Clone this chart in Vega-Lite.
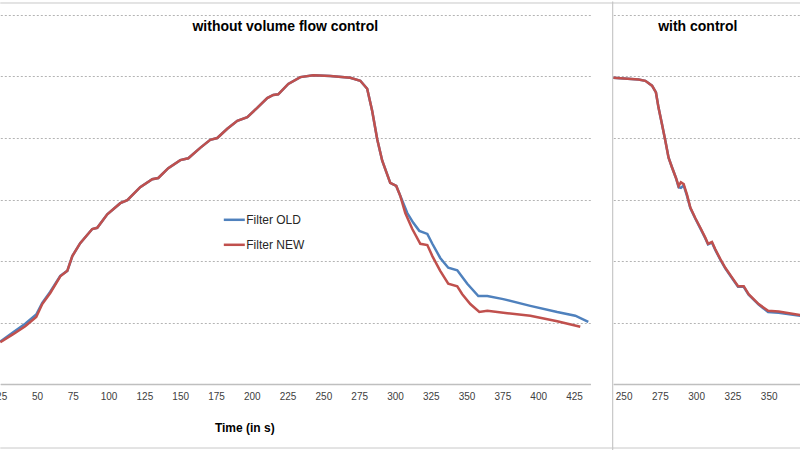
{
  "$schema": "https://vega.github.io/schema/vega-lite/v6.json",
  "background": "white",
  "padding": {"left": -4.7, "top": 0, "right": 0, "bottom": 0},
  "spacing": 23,
  "bounds": "flush",
  "config": {
    "view": {"stroke": null},
    "font": "Liberation Sans",
    "axisX": {"labelFont": "Liberation Sans", "labelFontSize": 10, "labelColor": "#404040", "labelPadding": 8,
      "labelFlush": false, "labelOverlap": false, "ticks": false, "grid": false,
      "domainColor": "#bfbfbf", "domainWidth": 1.5},
    "axisY": {"grid": true, "gridColor": "#b4b4b4", "gridDash": [2, 2], "gridWidth": 1,
      "labels": false, "ticks": false, "domain": false}
  },
  "resolve": {"scale": {"color": "independent"}, "legend": {"color": "independent"}},
  "datasets": {
    "one": [{}],
    "left": [
      {"series": "Filter OLD", "t": 24.4, "v": 6.9},
      {"series": "Filter OLD", "t": 33.4, "v": 8.4},
      {"series": "Filter OLD", "t": 41.8, "v": 9.8},
      {"series": "Filter OLD", "t": 49.5, "v": 11.3},
      {"series": "Filter OLD", "t": 53.7, "v": 13.2},
      {"series": "Filter OLD", "t": 59.3, "v": 15.0},
      {"series": "Filter OLD", "t": 66.3, "v": 17.6},
      {"series": "Filter OLD", "t": 71.2, "v": 18.4},
      {"series": "Filter OLD", "t": 74.7, "v": 20.8},
      {"series": "Filter OLD", "t": 80.2, "v": 22.9},
      {"series": "Filter OLD", "t": 88.6, "v": 25.2},
      {"series": "Filter OLD", "t": 92.1, "v": 25.4},
      {"series": "Filter OLD", "t": 99.1, "v": 27.6},
      {"series": "Filter OLD", "t": 108.2, "v": 29.4},
      {"series": "Filter OLD", "t": 113.1, "v": 29.9},
      {"series": "Filter OLD", "t": 122.1, "v": 32.0},
      {"series": "Filter OLD", "t": 130.5, "v": 33.3},
      {"series": "Filter OLD", "t": 134.7, "v": 33.5},
      {"series": "Filter OLD", "t": 141.7, "v": 35.1},
      {"series": "Filter OLD", "t": 150.1, "v": 36.4},
      {"series": "Filter OLD", "t": 155.7, "v": 36.7},
      {"series": "Filter OLD", "t": 164.0, "v": 38.4},
      {"series": "Filter OLD", "t": 171.0, "v": 39.7},
      {"series": "Filter OLD", "t": 175.9, "v": 40.0},
      {"series": "Filter OLD", "t": 182.9, "v": 41.5},
      {"series": "Filter OLD", "t": 189.9, "v": 42.8},
      {"series": "Filter OLD", "t": 196.9, "v": 43.4},
      {"series": "Filter OLD", "t": 203.8, "v": 44.9},
      {"series": "Filter OLD", "t": 210.8, "v": 46.5},
      {"series": "Filter OLD", "t": 215.0, "v": 47.0},
      {"series": "Filter OLD", "t": 218.5, "v": 47.1},
      {"series": "Filter OLD", "t": 225.5, "v": 48.8},
      {"series": "Filter OLD", "t": 233.9, "v": 49.9},
      {"series": "Filter OLD", "t": 243.0, "v": 50.2},
      {"series": "Filter OLD", "t": 254.8, "v": 50.1},
      {"series": "Filter OLD", "t": 268.8, "v": 49.8},
      {"series": "Filter OLD", "t": 275.8, "v": 49.3},
      {"series": "Filter OLD", "t": 280.6, "v": 48.0},
      {"series": "Filter OLD", "t": 284.1, "v": 44.4},
      {"series": "Filter OLD", "t": 287.6, "v": 39.8},
      {"series": "Filter OLD", "t": 291.1, "v": 36.3},
      {"series": "Filter OLD", "t": 296.7, "v": 32.7},
      {"series": "Filter OLD", "t": 300.9, "v": 32.2},
      {"series": "Filter OLD", "t": 303.7, "v": 30.6},
      {"series": "Filter OLD", "t": 308.6, "v": 27.8},
      {"series": "Filter OLD", "t": 312.8, "v": 26.2},
      {"series": "Filter OLD", "t": 317.0, "v": 24.9},
      {"series": "Filter OLD", "t": 322.6, "v": 24.4},
      {"series": "Filter OLD", "t": 326.1, "v": 22.8},
      {"series": "Filter OLD", "t": 331.6, "v": 20.5},
      {"series": "Filter OLD", "t": 337.2, "v": 18.9},
      {"series": "Filter OLD", "t": 343.5, "v": 18.5},
      {"series": "Filter OLD", "t": 350.5, "v": 16.3},
      {"series": "Filter OLD", "t": 358.2, "v": 14.3},
      {"series": "Filter OLD", "t": 364.5, "v": 14.3},
      {"series": "Filter OLD", "t": 375.6, "v": 13.8},
      {"series": "Filter OLD", "t": 394.5, "v": 12.7},
      {"series": "Filter OLD", "t": 413.3, "v": 11.7},
      {"series": "Filter OLD", "t": 425.9, "v": 11.1},
      {"series": "Filter OLD", "t": 435.0, "v": 10.1},
      {"series": "Filter NEW", "t": 24.4, "v": 6.8},
      {"series": "Filter NEW", "t": 33.4, "v": 8.1},
      {"series": "Filter NEW", "t": 41.8, "v": 9.4},
      {"series": "Filter NEW", "t": 49.5, "v": 10.9},
      {"series": "Filter NEW", "t": 53.7, "v": 13.0},
      {"series": "Filter NEW", "t": 59.3, "v": 14.8},
      {"series": "Filter NEW", "t": 66.3, "v": 17.5},
      {"series": "Filter NEW", "t": 71.2, "v": 18.4},
      {"series": "Filter NEW", "t": 74.7, "v": 20.8},
      {"series": "Filter NEW", "t": 80.2, "v": 22.9},
      {"series": "Filter NEW", "t": 88.6, "v": 25.2},
      {"series": "Filter NEW", "t": 92.1, "v": 25.4},
      {"series": "Filter NEW", "t": 99.1, "v": 27.6},
      {"series": "Filter NEW", "t": 108.2, "v": 29.4},
      {"series": "Filter NEW", "t": 113.1, "v": 29.9},
      {"series": "Filter NEW", "t": 122.1, "v": 32.0},
      {"series": "Filter NEW", "t": 130.5, "v": 33.3},
      {"series": "Filter NEW", "t": 134.7, "v": 33.5},
      {"series": "Filter NEW", "t": 141.7, "v": 35.1},
      {"series": "Filter NEW", "t": 150.1, "v": 36.4},
      {"series": "Filter NEW", "t": 155.7, "v": 36.7},
      {"series": "Filter NEW", "t": 164.0, "v": 38.4},
      {"series": "Filter NEW", "t": 171.0, "v": 39.7},
      {"series": "Filter NEW", "t": 175.9, "v": 40.0},
      {"series": "Filter NEW", "t": 182.9, "v": 41.5},
      {"series": "Filter NEW", "t": 189.9, "v": 42.8},
      {"series": "Filter NEW", "t": 196.9, "v": 43.4},
      {"series": "Filter NEW", "t": 203.8, "v": 44.9},
      {"series": "Filter NEW", "t": 210.8, "v": 46.5},
      {"series": "Filter NEW", "t": 215.0, "v": 47.0},
      {"series": "Filter NEW", "t": 218.5, "v": 47.1},
      {"series": "Filter NEW", "t": 225.5, "v": 48.8},
      {"series": "Filter NEW", "t": 233.9, "v": 49.9},
      {"series": "Filter NEW", "t": 243.0, "v": 50.2},
      {"series": "Filter NEW", "t": 254.8, "v": 50.1},
      {"series": "Filter NEW", "t": 268.8, "v": 49.8},
      {"series": "Filter NEW", "t": 275.8, "v": 49.3},
      {"series": "Filter NEW", "t": 280.6, "v": 48.0},
      {"series": "Filter NEW", "t": 284.1, "v": 44.4},
      {"series": "Filter NEW", "t": 287.6, "v": 39.8},
      {"series": "Filter NEW", "t": 291.1, "v": 36.3},
      {"series": "Filter NEW", "t": 296.7, "v": 32.7},
      {"series": "Filter NEW", "t": 300.9, "v": 32.2},
      {"series": "Filter NEW", "t": 303.7, "v": 30.6},
      {"series": "Filter NEW", "t": 307.2, "v": 27.8},
      {"series": "Filter NEW", "t": 312.1, "v": 25.2},
      {"series": "Filter NEW", "t": 317.7, "v": 22.8},
      {"series": "Filter NEW", "t": 322.6, "v": 22.6},
      {"series": "Filter NEW", "t": 326.1, "v": 20.8},
      {"series": "Filter NEW", "t": 331.6, "v": 18.4},
      {"series": "Filter NEW", "t": 337.2, "v": 16.3},
      {"series": "Filter NEW", "t": 343.5, "v": 15.9},
      {"series": "Filter NEW", "t": 347.0, "v": 14.6},
      {"series": "Filter NEW", "t": 352.6, "v": 13.0},
      {"series": "Filter NEW", "t": 358.9, "v": 11.7},
      {"series": "Filter NEW", "t": 364.5, "v": 11.9},
      {"series": "Filter NEW", "t": 378.5, "v": 11.5},
      {"series": "Filter NEW", "t": 394.5, "v": 11.1},
      {"series": "Filter NEW", "t": 413.3, "v": 10.2},
      {"series": "Filter NEW", "t": 429.4, "v": 9.3}
    ],
    "right": [
      {"series": "Filter OLD", "t": 242.9, "v": 49.8},
      {"series": "Filter OLD", "t": 260.3, "v": 49.5},
      {"series": "Filter OLD", "t": 265.0, "v": 49.3},
      {"series": "Filter OLD", "t": 269.6, "v": 48.5},
      {"series": "Filter OLD", "t": 272.3, "v": 47.4},
      {"series": "Filter OLD", "t": 274.1, "v": 44.9},
      {"series": "Filter OLD", "t": 276.5, "v": 42.2},
      {"series": "Filter OLD", "t": 278.8, "v": 39.5},
      {"series": "Filter OLD", "t": 281.0, "v": 36.8},
      {"series": "Filter OLD", "t": 283.4, "v": 35.2},
      {"series": "Filter OLD", "t": 286.1, "v": 33.5},
      {"series": "Filter OLD", "t": 287.9, "v": 32.0},
      {"series": "Filter OLD", "t": 289.5, "v": 31.9},
      {"series": "Filter OLD", "t": 291.4, "v": 32.3},
      {"series": "Filter OLD", "t": 293.7, "v": 30.6},
      {"series": "Filter OLD", "t": 296.0, "v": 28.6},
      {"series": "Filter OLD", "t": 299.4, "v": 26.9},
      {"series": "Filter OLD", "t": 302.9, "v": 25.3},
      {"series": "Filter OLD", "t": 306.3, "v": 23.7},
      {"series": "Filter OLD", "t": 308.2, "v": 22.7},
      {"series": "Filter OLD", "t": 310.9, "v": 23.0},
      {"series": "Filter OLD", "t": 313.2, "v": 21.8},
      {"series": "Filter OLD", "t": 316.7, "v": 20.2},
      {"series": "Filter OLD", "t": 320.1, "v": 18.8},
      {"series": "Filter OLD", "t": 324.8, "v": 17.2},
      {"series": "Filter OLD", "t": 328.9, "v": 15.8},
      {"series": "Filter OLD", "t": 332.8, "v": 15.8},
      {"series": "Filter OLD", "t": 336.2, "v": 14.5},
      {"series": "Filter OLD", "t": 343.1, "v": 12.9},
      {"series": "Filter OLD", "t": 349.6, "v": 11.7},
      {"series": "Filter OLD", "t": 356.9, "v": 11.6},
      {"series": "Filter OLD", "t": 371.8, "v": 11.1},
      {"series": "Filter NEW", "t": 242.9, "v": 49.8},
      {"series": "Filter NEW", "t": 260.3, "v": 49.5},
      {"series": "Filter NEW", "t": 265.0, "v": 49.3},
      {"series": "Filter NEW", "t": 269.6, "v": 48.5},
      {"series": "Filter NEW", "t": 272.3, "v": 47.4},
      {"series": "Filter NEW", "t": 274.1, "v": 44.9},
      {"series": "Filter NEW", "t": 276.5, "v": 42.2},
      {"series": "Filter NEW", "t": 278.8, "v": 39.5},
      {"series": "Filter NEW", "t": 281.0, "v": 36.8},
      {"series": "Filter NEW", "t": 283.4, "v": 35.2},
      {"series": "Filter NEW", "t": 286.1, "v": 33.5},
      {"series": "Filter NEW", "t": 287.9, "v": 32.2},
      {"series": "Filter NEW", "t": 289.5, "v": 32.8},
      {"series": "Filter NEW", "t": 291.4, "v": 32.5},
      {"series": "Filter NEW", "t": 293.7, "v": 30.8},
      {"series": "Filter NEW", "t": 296.0, "v": 28.7},
      {"series": "Filter NEW", "t": 299.4, "v": 27.0},
      {"series": "Filter NEW", "t": 302.9, "v": 25.4},
      {"series": "Filter NEW", "t": 306.3, "v": 23.8},
      {"series": "Filter NEW", "t": 308.2, "v": 22.8},
      {"series": "Filter NEW", "t": 310.9, "v": 23.1},
      {"series": "Filter NEW", "t": 313.2, "v": 21.9},
      {"series": "Filter NEW", "t": 316.7, "v": 20.3},
      {"series": "Filter NEW", "t": 320.1, "v": 18.9},
      {"series": "Filter NEW", "t": 324.8, "v": 17.3},
      {"series": "Filter NEW", "t": 328.9, "v": 15.9},
      {"series": "Filter NEW", "t": 332.8, "v": 15.9},
      {"series": "Filter NEW", "t": 336.2, "v": 14.6},
      {"series": "Filter NEW", "t": 343.1, "v": 13.0},
      {"series": "Filter NEW", "t": 349.6, "v": 11.9},
      {"series": "Filter NEW", "t": 356.9, "v": 11.8},
      {"series": "Filter NEW", "t": 371.8, "v": 11.2}
    ]
  },
  "hconcat": [
    {
      "width": 590,
      "height": 369,
      "title": {"text": "without volume flow control", "frame": "group", "anchor": "middle", "orient": "top", "offset": -42.5, "baseline": "alphabetic", "dx": -10, "fontSize": 14, "fontWeight": "bold", "color": "#000000", "font": "Liberation Sans"},
      "layer": [
        {
          "data": {"name": "left"},
          "mark": {"type": "line", "strokeWidth": 2.5},
          "encoding": {
            "x": {"field": "t", "type": "quantitative",
              "scale": {"domain": [24.4, 436.4], "nice": false, "zero": false},
              "axis": {"values": [25, 50, 75, 100, 125, 150, 175, 200, 225, 250, 275, 300, 325, 350, 375, 400, 425],
                "tickCount": 30, "labelOverlap": false,
                "title": "Time (in s)", "titleX": 244, "titleY": 48, "titleBaseline": "alphabetic", "titleAlign": "center",
                "titleFont": "Liberation Sans", "titleFontSize": 12, "titleFontWeight": "bold", "titleColor": "#000000"}},
            "y": {"field": "v", "type": "quantitative",
              "scale": {"domain": [0, 60], "nice": false, "zero": true},
              "axis": {"values": [0, 10, 20, 30, 40, 50, 60], "tickCount": 10, "title": null}},
            "color": {"field": "series", "type": "nominal",
              "scale": {"domain": ["Filter OLD", "Filter NEW"], "range": ["#4F81BD", "#C0504D"]},
              "legend": {"orient": "none", "legendX": 222, "legendY": 192.8, "title": null, "symbolType": "stroke",
                "symbolSize": 441, "symbolStrokeWidth": 2.5, "labelFont": "Liberation Sans", "labelFontSize": 12,
                "labelColor": "#262626", "labelOffset": 0, "rowPadding": 7, "padding": 0, "labelLimit": 300}}
          }
        },
        {
          "data": {"name": "one"},
          "mark": {"type": "rule", "color": "#c8c8c8", "strokeWidth": 1},
          "encoding": {"x": {"datum": 24.4, "type": "quantitative"}, "x2": {"datum": 451.7}, "y": {"datum": 61.95, "type": "quantitative"}}
        },
        {
          "data": {"name": "one"},
          "mark": {"type": "rule", "color": "#c8c8c8", "strokeWidth": 1},
          "encoding": {"x": {"datum": 24.4, "type": "quantitative"}, "x2": {"datum": 451.7}, "y": {"datum": -10.41, "type": "quantitative"}}
        }
      ]
    },
    {
      "width": 187,
      "height": 369,
      "title": {"text": "with control", "frame": "group", "anchor": "middle", "orient": "top", "offset": -44, "baseline": "alphabetic", "dx": -9, "fontSize": 14, "fontWeight": "bold", "color": "#000000", "font": "Liberation Sans"},
      "layer": [
        {
          "data": {"name": "right"},
          "mark": {"type": "line", "strokeWidth": 2.5},
          "encoding": {
            "x": {"field": "t", "type": "quantitative",
              "scale": {"domain": [242.9, 371.8], "nice": false, "zero": false},
              "axis": {"values": [250, 275, 300, 325, 350], "tickCount": 10, "labelOverlap": false, "title": null}},
            "y": {"field": "v", "type": "quantitative",
              "scale": {"domain": [0, 60], "nice": false, "zero": true},
              "axis": {"values": [0, 10, 20, 30, 40, 50, 60], "tickCount": 10, "title": null}},
            "color": {"field": "series", "type": "nominal",
              "scale": {"domain": ["Filter OLD", "Filter NEW"], "range": ["#4F81BD", "#C0504D"]},
              "legend": null}
          }
        },
        {
          "data": {"name": "one"},
          "mark": {"type": "rule", "color": "#c8c8c8", "strokeWidth": 1},
          "encoding": {"x": {"datum": 242.5, "type": "quantitative"}, "x2": {"datum": 371.8}, "y": {"datum": 61.95, "type": "quantitative"}}
        },
        {
          "data": {"name": "one"},
          "mark": {"type": "rule", "color": "#c8c8c8", "strokeWidth": 1},
          "encoding": {"x": {"datum": 242.5, "type": "quantitative"}, "x2": {"datum": 371.8}, "y": {"datum": -10.41, "type": "quantitative"}}
        },
        {
          "data": {"name": "one"},
          "mark": {"type": "rule", "color": "#bdbdbd", "strokeWidth": 1},
          "encoding": {"x": {"datum": 242.5, "type": "quantitative"}, "y": {"datum": -11, "type": "quantitative"}, "y2": {"datum": 62.2}}
        }
      ]
    }
  ]
}
